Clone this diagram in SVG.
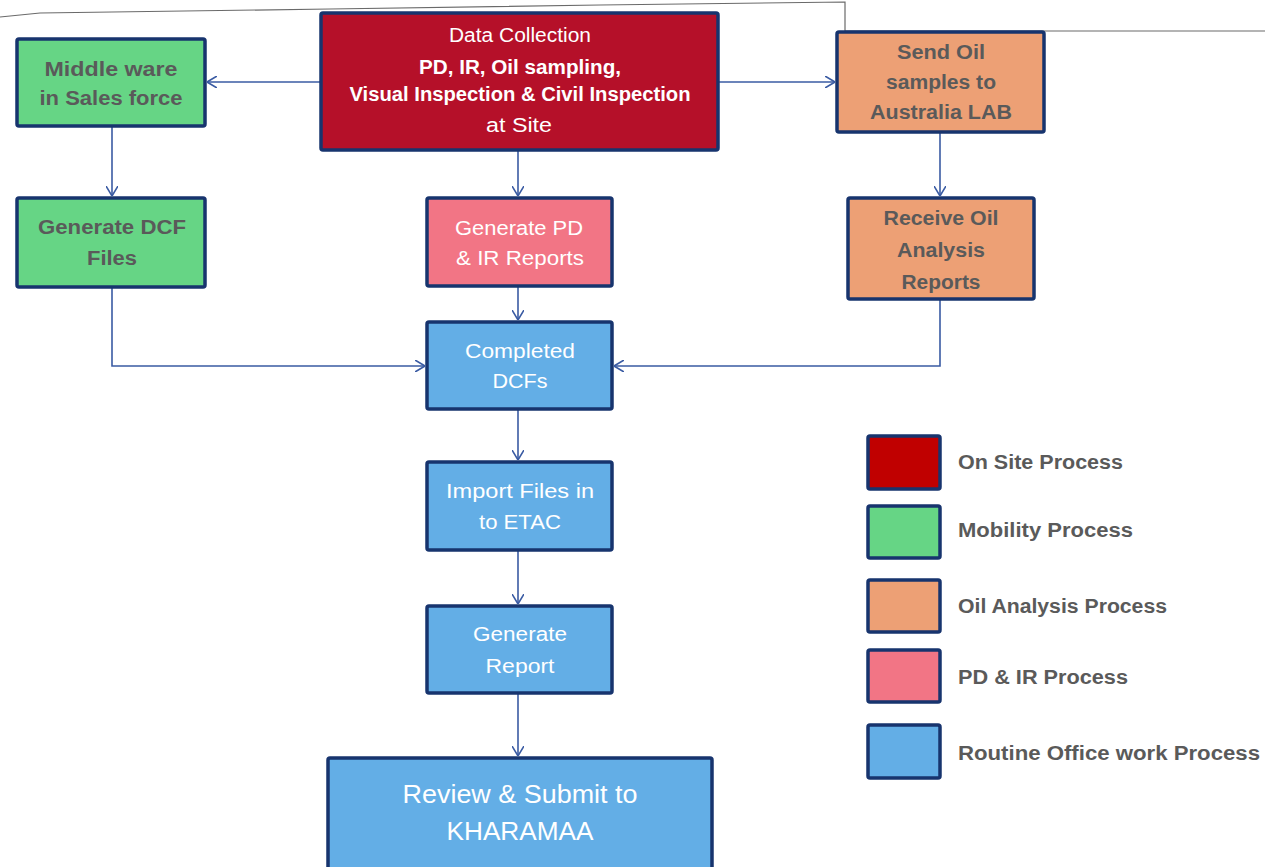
<svg xmlns="http://www.w3.org/2000/svg" width="1265" height="867" viewBox="0 0 1265 867">
<defs>
<style>
.box{stroke:#17346e;stroke-width:3.5}
.red{fill:#b51029}.grn{fill:#66d585}.org{fill:#eda075}.pnk{fill:#f27585}.blu{fill:#63aee6}.lred{fill:#c00000}
.tw{font-family:"Liberation Sans",Arial,sans-serif;font-size:20px;fill:#ffffff;text-anchor:middle}
.tg{font-family:"Liberation Sans",Arial,sans-serif;font-size:20px;font-weight:bold;fill:#5a5a5a;text-anchor:middle}
.tb{font-weight:bold}
.lg{font-family:"Liberation Sans",Arial,sans-serif;font-size:20px;font-weight:bold;fill:#5a5a5a}
.con{fill:none;stroke:#3a5ba3;stroke-width:1.6}
</style>
<marker id="arr" viewBox="0 0 10 12" refX="10" refY="6" markerWidth="10" markerHeight="12" markerUnits="userSpaceOnUse" orient="auto">
<path d="M0,0 L10,6 L0,12" fill="none" stroke="#3a5ba3" stroke-width="1.6"/>
</marker>
</defs>
<rect width="1265" height="867" fill="#ffffff"/>
<polyline points="0,17 40,13 330,9 600,5 845,2 845,31 1265,31" fill="none" stroke="#6a6a6a" stroke-width="1.2"/>
<g id="connectors">
<line class="con" x1="320" y1="82" x2="207" y2="82" marker-end="url(#arr)"/>
<line class="con" x1="719" y1="82" x2="835" y2="82" marker-end="url(#arr)"/>
<line class="con" x1="518" y1="140" x2="518" y2="196" marker-end="url(#arr)"/>
<line class="con" x1="112" y1="127" x2="112" y2="196" marker-end="url(#arr)"/>
<line class="con" x1="940" y1="133" x2="940" y2="196" marker-end="url(#arr)"/>
<polyline class="con" points="112,288 112,366 425,366" marker-end="url(#arr)"/>
<polyline class="con" points="940,300 940,366 614,366" marker-end="url(#arr)"/>
<line class="con" x1="518" y1="287" x2="518" y2="320" marker-end="url(#arr)"/>
<line class="con" x1="518" y1="410" x2="518" y2="460" marker-end="url(#arr)"/>
<line class="con" x1="518" y1="551" x2="518" y2="604" marker-end="url(#arr)"/>
<line class="con" x1="518" y1="694" x2="518" y2="756" marker-end="url(#arr)"/>
</g>
<g id="data-collection">
<rect class="box red" x="321" y="13" width="397" height="137" rx="2"/>
<text class="tw" x="520" y="42" textLength="142" lengthAdjust="spacingAndGlyphs">Data Collection</text>
<text class="tw tb" x="520" y="74" textLength="202" lengthAdjust="spacingAndGlyphs">PD, IR, Oil sampling,</text>
<text class="tw tb" x="520" y="101" textLength="341" lengthAdjust="spacingAndGlyphs">Visual Inspection &amp; Civil Inspection</text>
<text class="tw" x="519" y="132" textLength="66" lengthAdjust="spacingAndGlyphs">at Site</text>
</g>
<g id="middle-ware">
<rect class="box grn" x="17" y="39" width="188" height="87" rx="2"/>
<text class="tg" x="111" y="76" textLength="133" lengthAdjust="spacingAndGlyphs">Middle ware</text>
<text class="tg" x="111" y="105" textLength="143" lengthAdjust="spacingAndGlyphs">in Sales force</text>
</g>
<g id="send-oil">
<rect class="box org" x="837" y="32" width="207" height="100" rx="2"/>
<text class="tg" x="941" y="59" textLength="88" lengthAdjust="spacingAndGlyphs">Send Oil</text>
<text class="tg" x="941" y="89" textLength="110" lengthAdjust="spacingAndGlyphs">samples to</text>
<text class="tg" x="941" y="119" textLength="142" lengthAdjust="spacingAndGlyphs">Australia LAB</text>
</g>
<g id="generate-dcf">
<rect class="box grn" x="17" y="198" width="188" height="89" rx="2"/>
<text class="tg" x="112" y="234" textLength="148" lengthAdjust="spacingAndGlyphs">Generate DCF</text>
<text class="tg" x="112" y="265" textLength="50" lengthAdjust="spacingAndGlyphs">Files</text>
</g>
<g id="generate-pd-ir">
<rect class="box pnk" x="427" y="198" width="185" height="88" rx="2"/>
<text class="tw" x="519" y="235" textLength="128" lengthAdjust="spacingAndGlyphs">Generate PD</text>
<text class="tw" x="520" y="265" textLength="128" lengthAdjust="spacingAndGlyphs">&amp; IR Reports</text>
</g>
<g id="receive-oil">
<rect class="box org" x="848" y="198" width="186" height="101" rx="2"/>
<text class="tg" x="941" y="225" textLength="115" lengthAdjust="spacingAndGlyphs">Receive Oil</text>
<text class="tg" x="941" y="257" textLength="88" lengthAdjust="spacingAndGlyphs">Analysis</text>
<text class="tg" x="941" y="289" textLength="79" lengthAdjust="spacingAndGlyphs">Reports</text>
</g>
<g id="completed-dcfs">
<rect class="box blu" x="427" y="322" width="185" height="87" rx="2"/>
<text class="tw" x="520" y="358" textLength="110" lengthAdjust="spacingAndGlyphs">Completed</text>
<text class="tw" x="520" y="388" textLength="55" lengthAdjust="spacingAndGlyphs">DCFs</text>
</g>
<g id="import-files">
<rect class="box blu" x="427" y="462" width="185" height="88" rx="2"/>
<text class="tw" x="520" y="498" textLength="148" lengthAdjust="spacingAndGlyphs">Import Files in</text>
<text class="tw" x="520" y="529" textLength="82" lengthAdjust="spacingAndGlyphs">to ETAC</text>
</g>
<g id="generate-report">
<rect class="box blu" x="427" y="606" width="185" height="87" rx="2"/>
<text class="tw" x="520" y="641" textLength="94" lengthAdjust="spacingAndGlyphs">Generate</text>
<text class="tw" x="520" y="673" textLength="69" lengthAdjust="spacingAndGlyphs">Report</text>
</g>
<g id="review-submit">
<rect class="box blu" x="328" y="758" width="384" height="115" rx="2"/>
<text class="tw" x="520" y="803" style="font-size:25px" textLength="235" lengthAdjust="spacingAndGlyphs">Review &amp; Submit to</text>
<text class="tw" x="520" y="840" style="font-size:25px" textLength="147" lengthAdjust="spacingAndGlyphs">KHARAMAA</text>
</g>
<g id="legend">
<rect class="box lred" x="868" y="436" width="72" height="53" rx="2"/>
<text class="lg" x="958" y="469" textLength="165" lengthAdjust="spacingAndGlyphs">On Site Process</text>
<rect class="box grn" x="868" y="506" width="72" height="52" rx="2"/>
<text class="lg" x="958" y="537" textLength="175" lengthAdjust="spacingAndGlyphs">Mobility Process</text>
<rect class="box org" x="868" y="580" width="72" height="52" rx="2"/>
<text class="lg" x="958" y="613" textLength="209" lengthAdjust="spacingAndGlyphs">Oil Analysis Process</text>
<rect class="box pnk" x="868" y="650" width="72" height="52" rx="2"/>
<text class="lg" x="958" y="684" textLength="170" lengthAdjust="spacingAndGlyphs">PD &amp; IR Process</text>
<rect class="box blu" x="868" y="725" width="72" height="53" rx="2"/>
<text class="lg" x="958" y="760" textLength="302" lengthAdjust="spacingAndGlyphs">Routine Office work Process</text>
</g>
</svg>
